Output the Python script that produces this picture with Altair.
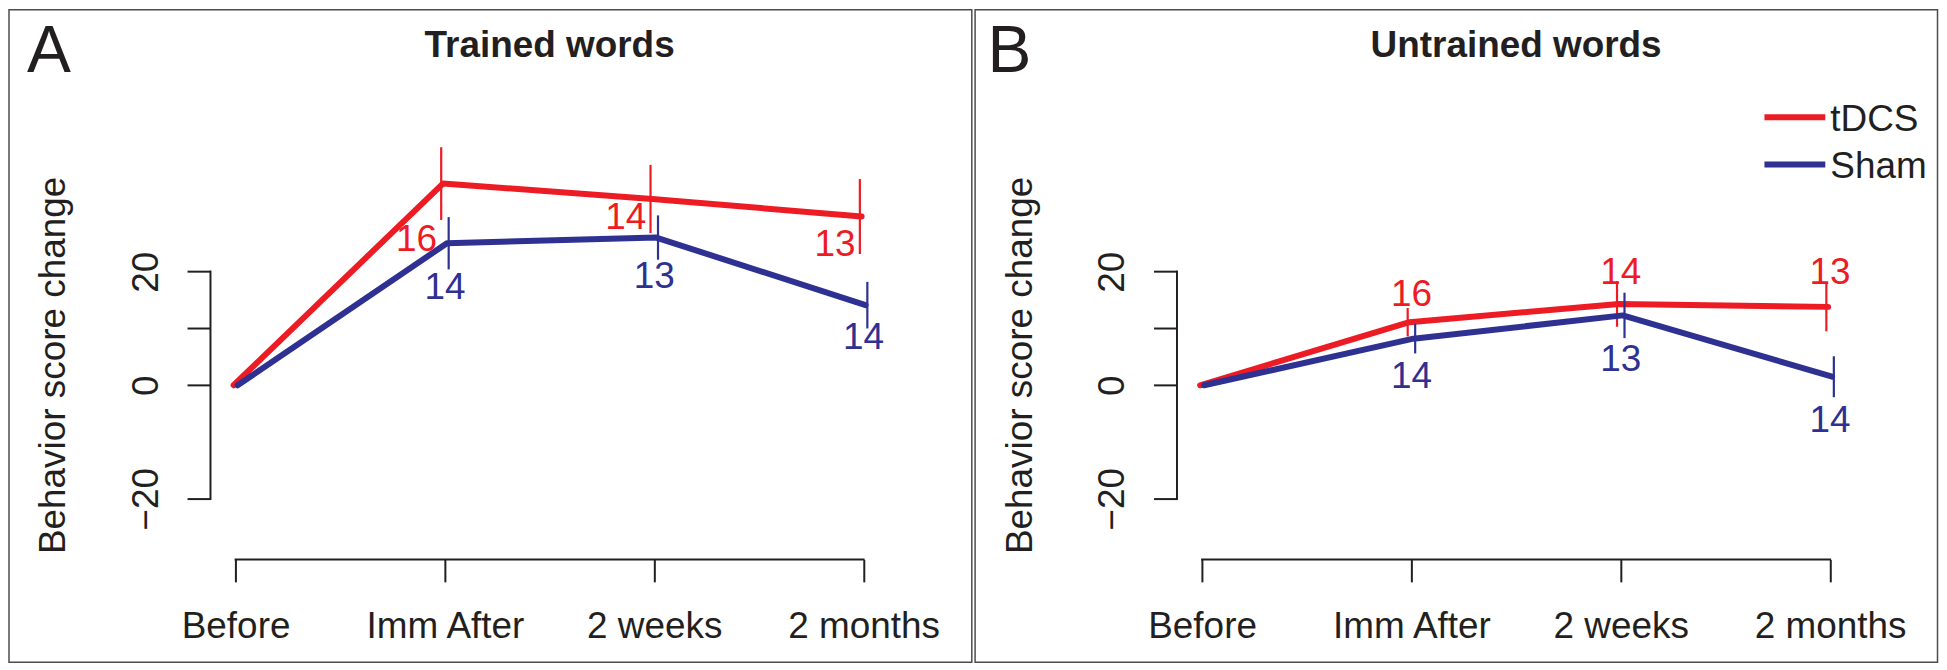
import altair as alt
import pandas as pd

# ---------------- data ----------------
categories = ["Before", "Imm After", "2 weeks", "2 months"]
series_names = ["tDCS", "Sham"]

trained_tdcs_mean = [0, 35.5, 32.8, 29.7]
trained_tdcs_se = [0, 6.4, 6.0, 6.6]
trained_sham_mean = [0, 25.0, 26.0, 14.1]
trained_sham_se = [0, 4.6, 3.9, 4.1]

untrained_tdcs_mean = [0, 11.1, 14.3, 13.8]
untrained_tdcs_se = [0, 2.5, 4.0, 4.3]
untrained_sham_mean = [0, 8.2, 12.3, 1.5]
untrained_sham_se = [0, 2.6, 4.0, 3.6]

# sample sizes written next to the follow-up points
trained_tdcs_n = [16, 14, 13]
trained_sham_n = [14, 13, 14]
untrained_tdcs_n = [16, 14, 13]
untrained_sham_n = [14, 13, 14]

# score value at which each n label sits
trained_tdcs_label_y = [25.5, 29.5, 24.6]
trained_sham_label_y = [17.2, 19.1, 8.3]
untrained_tdcs_label_y = [15.9, 19.7, 19.7]
untrained_sham_label_y = [1.5, 4.4, -6.3]

# extent of the drawn y axis line (R style)
y_axis_span = [-20, 20]

# ---------------- style ----------------
RED = "#ED1C24"
BLUE = "#2E3192"
INK = "#231F20"
FRAME = "#4d4d4d"
FONT = "Liberation Sans"
W, H = 680, 390
Y_DOMAIN = [-30.66, 37.82]
FS = 37
LW = 6
colors = dict(zip(series_names, [RED, BLUE]))
dodge_line = {"tDCS": -2, "Sham": 2}
dodge_bar = {"tDCS": -3.75, "Sham": 3.75}


def build(mean_t, se_t, n_t, ly_t, mean_s, se_s, n_s, ly_s):
    pts, labs = [], []
    for name, mean, se, n, ly in [("tDCS", mean_t, se_t, n_t, ly_t),
                                  ("Sham", mean_s, se_s, n_s, ly_s)]:
        for i, cat in enumerate(categories):
            pts.append(dict(time=cat, series=name, mean=mean[i],
                            lo=mean[i] - se[i], hi=mean[i] + se[i], se=se[i]))
        for j, cat in enumerate(categories[1:]):
            labs.append(dict(time=cat, series=name, n=str(n[j]), label_y=ly[j]))
    return pd.DataFrame(pts), pd.DataFrame(labs)


one = pd.DataFrame({"k": [0]})
cat_df = pd.DataFrame({"time": categories})
yspan_df = pd.DataFrame({"lo": [y_axis_span[0]], "hi": [y_axis_span[1]]})

x_axis = alt.Axis(title=None, labelFontSize=FS, labelFont=FONT, labelColor=INK,
                  labelPadding=56, labelBaseline="alphabetic", labelAngle=0,
                  tickSize=22.5, tickWidth=2, tickColor=INK, domain=False,
                  grid=False, labelOverlap=False)
y_axis = alt.Axis(title="Behavior score change", values=[-20, 0, 10, 20],
                  labelExpr="datum.value == 10 ? '' : datum.label",
                  labelAngle=270, labelAlign="center", labelBaseline="alphabetic",
                  labelPadding=30, labelFontSize=FS, labelFont=FONT, labelColor=INK,
                  tickSize=23.5, tickWidth=2, tickColor=INK, domain=False, grid=False,
                  labelOverlap=False,
                  titleFontSize=FS, titleFont=FONT, titleFontWeight="normal",
                  titleColor=INK, titleAngle=270, titleAlign="center",
                  titleBaseline="alphabetic", titleX=-146, titleY=H / 2)

xs = alt.Scale(type="point", padding=0.12)
ys = alt.Scale(domain=Y_DOMAIN, nice=False, zero=False)


def X():
    return alt.X("time:N", sort=categories, scale=xs, axis=x_axis)


def Y(field):
    return alt.Y(field, type="quantitative", scale=ys, axis=y_axis)


def panel(pts, labs, title, letter, letter_x, red_label_align, rect_x, legend):
    layers = []
    # frame
    layers.append(alt.Chart(one).mark_rect(fillOpacity=0, stroke=FRAME, strokeWidth=1.5).encode(
        x=alt.value(rect_x[0]), x2=alt.value(rect_x[1]),
        y=alt.value(-161), y2=alt.value(493)))
    # axis lines (R style: only across the ticks)
    layers.append(alt.Chart(yspan_df).mark_rule(color=INK, strokeWidth=2, strokeCap="square").encode(
        x=alt.value(0), y=Y("lo"), y2="hi"))
    layers.append(alt.Chart(cat_df).mark_line(color=INK, strokeWidth=2, strokeCap="square").encode(
        x=X(), y=alt.value(H)))
    for s in series_names:
        sp = pts[pts.series == s]
        layers.append(alt.Chart(sp).mark_line(color=colors[s], strokeWidth=LW,
                                              strokeCap="round", strokeJoin="round",
                                              xOffset=dodge_line[s]).encode(
            x=X(), y=Y("mean")))
        layers.append(alt.Chart(sp[sp.se > 0]).mark_rule(color=colors[s], strokeWidth=2.2,
                                                         xOffset=dodge_bar[s]).encode(
            x=X(), y=Y("lo"), y2="hi"))
    for s in series_names:
        sl = labs[labs.series == s]
        if s == "tDCS" and red_label_align == "right":
            mk = alt.Chart(sl).mark_text(color=colors[s], fontSize=FS, font=FONT,
                                         align="right", baseline="middle", dx=-8)
        else:
            mk = alt.Chart(sl).mark_text(color=colors[s], fontSize=FS, font=FONT,
                                         align="center", baseline="middle")
        layers.append(mk.encode(x=X(), y=Y("label_y"), text="n:N"))
    # panel title and letter
    layers.append(alt.Chart(one).mark_text(text=title, fontSize=FS, font=FONT, fontWeight="bold",
                                           color=INK, align="center", baseline="alphabetic").encode(
        x=alt.value(W / 2), y=alt.value(-113.3)))
    layers.append(alt.Chart(one).mark_text(text=letter, fontSize=66, font=FONT, color=INK,
                                           align="left", baseline="alphabetic").encode(
        x=alt.value(letter_x), y=alt.value(-98.5)))
    if legend:
        for s, yy in zip(series_names, [-53.3, -6]):
            layers.append(alt.Chart(one).mark_rule(color=colors[s], strokeWidth=LW).encode(
                x=alt.value(589), x2=alt.value(650), y=alt.value(yy)))
            layers.append(alt.Chart(one).mark_text(text=s, fontSize=FS, font=FONT, color=INK,
                                                   align="left", baseline="alphabetic").encode(
                x=alt.value(655), y=alt.value(yy + 13.3)))
    return alt.layer(*layers).properties(width=W, height=H)


ptsA, labA = build(trained_tdcs_mean, trained_tdcs_se, trained_tdcs_n, trained_tdcs_label_y,
                   trained_sham_mean, trained_sham_se, trained_sham_n, trained_sham_label_y)
ptsB, labB = build(untrained_tdcs_mean, untrained_tdcs_se, untrained_tdcs_n, untrained_tdcs_label_y,
                   untrained_sham_mean, untrained_sham_se, untrained_sham_n, untrained_sham_label_y)

pA = panel(ptsA, labA, "Trained words", "A", -184, "right", (-202, 763.3), False)
pB = panel(ptsB, labB, "Untrained words", "B", -190, "center", (-202.4, 762.5), True)

chart = alt.hconcat(pA, pB, spacing=0).properties(padding=0, background="white").configure(
    font=FONT, view=alt.ViewConfig(stroke=None))

chart.save("out.html", embed_options={"renderer": "svg", "actions": False})
